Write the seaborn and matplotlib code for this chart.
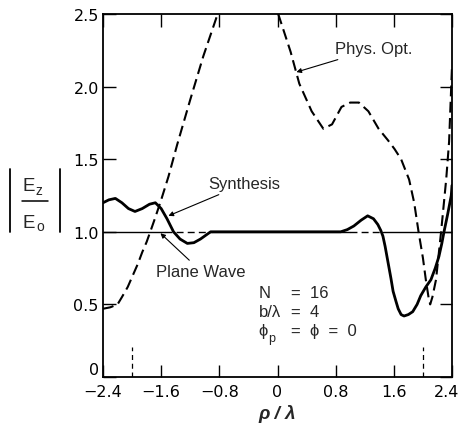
import matplotlib
matplotlib.use("Agg")
import matplotlib.pyplot as plt
from matplotlib.lines import Line2D
from matplotlib.transforms import Affine2D
import seaborn as sns

# ---------------- data ----------------
phys_x = [-2.4, -2.3, -2.2, -2.14, -2.06, -1.99, -1.92, -1.86, -1.8, -1.75, -1.68, -1.6,
          -1.5, -1.38, -1.2, -1.02, -0.83, -0.6, -0.41, -0.2, 0.01, 0.18, 0.3, 0.47,
          0.63, 0.75, 0.88, 1.0, 1.12, 1.25, 1.39, 1.52, 1.61, 1.7, 1.81, 1.88, 1.94,
          2.0, 2.04, 2.08, 2.1, 2.13, 2.18, 2.25, 2.32, 2.36, 2.4]
phys_y = [0.47, 0.48, 0.5, 0.55, 0.62, 0.7, 0.78, 0.86, 0.93, 1.0, 1.1, 1.22,
          1.38, 1.6, 1.91, 2.21, 2.49, 2.74, 2.8, 2.73, 2.5, 2.24, 2.02, 1.83,
          1.71, 1.74, 1.86, 1.89, 1.89, 1.83, 1.71, 1.63, 1.57, 1.5, 1.36, 1.2, 1.0,
          0.82, 0.67, 0.54, 0.5, 0.55, 0.67, 1.0, 1.36, 1.62, 2.14]

syn_x = [-2.4, -2.32, -2.23, -2.14, -2.05, -1.96, -1.86, -1.76, -1.68, -1.6, -1.52, -1.43,
         -1.34, -1.24, -1.15, -1.06, -0.92, -0.7, 0.0, 0.7, 0.87, 0.96, 1.05, 1.15,
         1.24, 1.32, 1.38, 1.42, 1.45, 1.48, 1.52, 1.56, 1.59, 1.63, 1.66, 1.7, 1.74,
         1.8, 1.86, 1.92, 1.97, 2.04, 2.11, 2.17, 2.22, 2.26, 2.29, 2.34, 2.39, 2.4]
syn_y = [1.2, 1.22, 1.23, 1.2, 1.16, 1.14, 1.16, 1.19, 1.2, 1.16, 1.09, 1.0,
         0.95, 0.92, 0.925, 0.95, 1.0, 1.0, 1.0, 1.0, 1.0, 1.015, 1.04, 1.08,
         1.11, 1.09, 1.05, 1.01, 0.97, 0.9, 0.79, 0.68, 0.59, 0.52, 0.47, 0.43, 0.42,
         0.43, 0.45, 0.5, 0.56, 0.62, 0.67, 0.75, 0.83, 0.92, 1.0, 1.12, 1.25, 1.32]

plane_x = [-2.4, -1.55, -0.9, 1.0, 1.45, 2.4]
plane_y = [1.0, 1.0, 1.0, 1.0, 1.0, 1.0]
plane_styles = ["solid", "dashed", "solid", "dashed", "solid"]

mark_x = [-2.0, 2.0]
mark_top = 0.21

xticks = [-2.4, -1.6, -0.8, 0.0, 0.8, 1.6, 2.4]
xticklabels = ["\u22122.4", "\u22121.6", "\u22120.8", "0", "0.8", "1.6", "2.4"]
yticks = [0.0, 0.5, 1.0, 1.5, 2.0, 2.5]
yticklabels = ["0", "0.5", "1.0", "1.5", "2.0", "2.5"]

# ---------------- style ----------------
sns.set_style("ticks")
plt.rcParams["font.family"] = ["Liberation Sans", "DejaVu Sans"]

W, H = 462, 431
fig = plt.figure(figsize=(W / 100, H / 100), dpi=100)
ax = fig.add_axes([103 / W, 53 / H, 349 / W, 363 / H])

# Phys. Opt. (dashed)
sns.lineplot(x=phys_x, y=phys_y, ax=ax, color="black", lw=1.5, estimator=None,
             sort=False, linestyle=(0, (5.2, 2.6)))
# Synthesis (solid heavy)
sns.lineplot(x=syn_x, y=syn_y, ax=ax, color="black", lw=2.0, estimator=None, sort=False)
# Plane wave (thin)
for i, st in enumerate(plane_styles):
    ls = "-" if st == "solid" else (0, (5, 3))
    sns.lineplot(x=plane_x[i:i + 2], y=plane_y[i:i + 2], ax=ax, color="black",
                 lw=1.0, estimator=None, sort=False, linestyle=ls)
# short dashed marks
for mx in mark_x:
    sns.lineplot(x=[mx, mx], y=[0.0, mark_top], ax=ax, color="black", lw=0.9,
                 estimator=None, sort=False, linestyle=(0, (4, 3)))

ax.set_xlim(-2.4, 2.4)
ax.set_ylim(0, 2.5)
ax.set_xticks(xticks)
ax.set_xticklabels(xticklabels, family=["DejaVu Sans"], fontsize=11.5)
ax.set_yticks(yticks)
ax.set_yticklabels(yticklabels, family=["DejaVu Sans"], fontsize=11.5)
ax.tick_params(direction="in", length=9, width=1.0, top=True, right=True,
               color="black", labelcolor="black")
ax.tick_params(axis="x", pad=5)
ax.tick_params(axis="y", pad=3)
ax.get_yticklabels()[0].set_va("bottom")
last = ax.xaxis.get_major_ticks()[-1].label1
last.set_transform(last.get_transform() + Affine2D().translate(-5, 0))
for s in ax.spines.values():
    s.set_visible(True)
    s.set_linewidth(1.3)
    s.set_color("black")

ax.set_xlabel("\u03c1 / \u03bb", fontsize=13.5, fontweight="bold", style="italic",
              labelpad=4)
ax.set_ylabel("")

# y-axis label |E_z / E_o| built from text pieces
def fx(px):
    return px / W

def fy(py):
    return 1 - py / H

fig.add_artist(Line2D([fx(10), fx(10)], [fy(170), fy(233)], color="black", lw=1.3))
fig.add_artist(Line2D([fx(60), fx(60)], [fy(170), fy(233)], color="black", lw=1.3))
fig.add_artist(Line2D([fx(22), fx(48)], [fy(202), fy(202)], color="black", lw=1.1))
fig.text(fx(23), fy(191), "E", fontsize=13.5, ha="left", va="baseline")
fig.text(fx(35), fy(195), "z", fontsize=10, ha="left", va="baseline")
fig.text(fx(23), fy(228), "E", fontsize=13.5, ha="left", va="baseline")
fig.text(fx(36), fy(231), "o", fontsize=10, ha="left", va="baseline")

# annotations
arrow = dict(arrowstyle="-|>", lw=0.8, color="black", mutation_scale=7,
             shrinkA=0, shrinkB=0)
ax.annotate("Phys. Opt.", xy=(0.26, 2.10), xytext=(0.79, 2.26), fontsize=12,
            ha="left", va="center", arrowprops=arrow)
ax.annotate("Synthesis", xy=(-1.5, 1.11), xytext=(-0.95, 1.33), fontsize=12,
            ha="left", va="center", arrowprops=arrow)
ax.annotate("Plane Wave", xy=(-1.61, 0.99), xytext=(-1.67, 0.73), fontsize=12,
            ha="left", va="center", arrowprops=arrow)

rows_left = ["N", "b/\u03bb", "\u03d5"]
rows_left_x = [-0.097, 0.055, -0.138]
rows_right = ["=  16", "=  4", "=  \u03d5  =  0"]
rows_y = [0.585, 0.448, 0.317]
for lt, xl, rt, yy in zip(rows_left, rows_left_x, rows_right, rows_y):
    ax.text(xl, yy, lt, fontsize=12, ha="right", va="center")
    ax.text(0.179, yy, rt, fontsize=12, ha="left", va="center")
ax.text(-0.135, rows_y[2] - 0.045, "p", fontsize=9, ha="left", va="center")

fig.savefig("out.png", dpi=100)
